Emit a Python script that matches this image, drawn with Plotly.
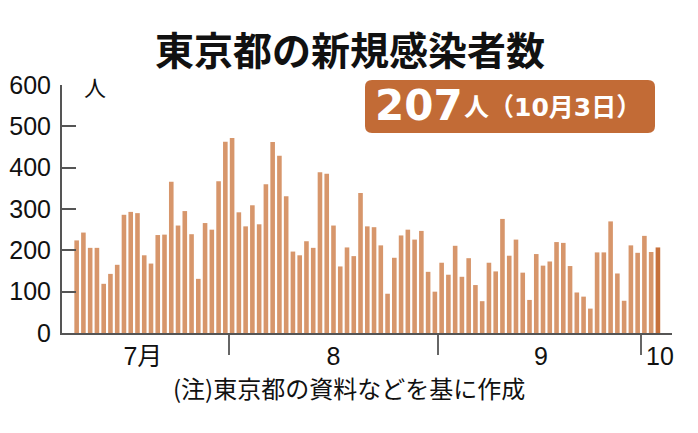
import plotly.graph_objects as go
import pandas as pd

# ---- data ----
start_date = "2020-07-09"
cases = [
    224, 243, 206, 206, 119, 143, 165, 286, 293, 290, 188, 168, 237, 238, 366,
    260, 295, 239, 131, 266, 250, 367, 463,
    472, 292, 258, 309, 263, 360, 462, 429, 331, 197, 188, 222, 206, 389, 385,
    260, 161, 207, 186, 339, 258, 256, 212, 95, 182, 236, 250, 226, 247, 148, 100,
    170, 141, 211, 136, 181, 116, 77, 170, 149, 276, 187, 226, 146, 80, 191, 163,
    173, 220, 218, 162, 98, 88, 59, 195, 195, 270, 144, 78, 212, 194,
    235, 196, 207,
]
dates = pd.date_range(start_date, periods=len(cases), freq="D")
month_label_pos = ["2020-07-19 07:00", "2020-08-16 12:00", "2020-09-16 05:00", "2020-10-03 19:00"]
month_labels = ["7月", "8", "9", "10"]
y_ticks = [0, 100, 200, 300, 400, 500, 600]
title_text = "東京都の新規感染者数"
badge_value = "207"
badge_rest = "人（10月3日）"
note_text = "(注)東京都の資料などを基に作成"

bar_color = "#d7966b"
last_color = "#c7713c"
colors = [bar_color] * (len(cases) - 1) + [last_color]

# page has an 8px body margin -> figure drawn at (8, 8)
OFF = 8
W, H = 698 - OFF, 433 - OFF
PX_L, PX_R, PX_T, PX_B = 62, 672, 85, 333   # plot area in window pixels
L, R, T, B = PX_L - OFF, 698 - PX_R, PX_T - OFF, 433 - PX_B
pw, ph = W - L - R, H - T - B

def px(x):
    return (x - PX_L) / pw

def py(y):
    return (PX_B - y) / ph

# centre each day's bar in the middle of its day
bar_x = dates + pd.Timedelta(hours=12)

fig = go.Figure()
fig.add_trace(go.Bar(
    x=bar_x, y=cases, marker=dict(color=colors, line=dict(width=0)),
    hoverinfo="x+y",
))

axis_font = dict(family="Liberation Sans, Arial", size=25, color="#111")

fig.update_layout(
    width=W, height=H,
    margin=dict(l=L, r=R, t=T, b=B, autoexpand=False),
    paper_bgcolor="white", plot_bgcolor="white",
    bargap=0.32, showlegend=False,
    xaxis=dict(
        range=["2020-07-07 08:00", "2020-10-05 14:00"],
        tickvals=month_label_pos, ticktext=month_labels,
        ticks="", tickfont=dict(family="Liberation Sans, Noto Sans CJK JP", size=25, color="#111"),
        ticklabelstandoff=0, automargin=False,
        showline=True, linecolor="#555", linewidth=2,
        showgrid=False, zeroline=False,
        minor=dict(dtick="M1", tick0="2020-08-01", ticks="outside", ticklen=20,
                   tickcolor="#666", tickwidth=2, showgrid=False),
    ),
    yaxis=dict(
        range=[0, 600], tickvals=y_ticks,
        ticks="inside", ticklen=14, tickcolor="#555", tickwidth=2,
        tickfont=axis_font, ticklabelstandoff=4, automargin=False,
        showline=True, linecolor="#555", linewidth=2,
        showgrid=False, zeroline=False,
    ),
)

# title
fig.add_annotation(text=title_text, xref="paper", yref="paper", x=px(350), y=py(48),
                   showarrow=False, xanchor="center", yanchor="middle",
                   font=dict(family="Noto Sans CJK JP", size=39, color="#111", weight="bold"))
# unit label
fig.add_annotation(text="人", xref="paper", yref="paper", x=px(82), y=py(86),
                   showarrow=False, xanchor="left", yanchor="middle",
                   font=dict(family="Noto Sans CJK JP", size=22, color="#111"))
# badge
bx0, bx1, by0, by1, r = 365, 655, 80, 133, 7
rx, ry = r / pw, r / ph
x0, x1, y0, y1 = px(bx0), px(bx1), py(by1), py(by0)
path = (f"M {x0+rx},{y0} L {x1-rx},{y0} Q {x1},{y0} {x1},{y0+ry} "
        f"L {x1},{y1-ry} Q {x1},{y1} {x1-rx},{y1} L {x0+rx},{y1} "
        f"Q {x0},{y1} {x0},{y1-ry} L {x0},{y0+ry} Q {x0},{y0} {x0+rx},{y0} Z")
fig.add_shape(type="path", path=path, xref="paper", yref="paper",
              fillcolor="#c26b36", line=dict(width=0), layer="above")
fig.add_annotation(text=badge_value, xref="paper", yref="paper", x=px(465), y=py(105),
                   showarrow=False, xanchor="right", yanchor="middle",
                   font=dict(family="DejaVu Sans, Liberation Sans", size=42, color="white", weight="bold"))
fig.add_annotation(text=badge_rest, xref="paper", yref="paper", x=px(462), y=py(107),
                   showarrow=False, xanchor="left", yanchor="middle",
                   font=dict(family="DejaVu Sans, Noto Sans CJK JP", size=25, color="white", weight="bold"))
# footnote
fig.add_annotation(text=note_text, xref="paper", yref="paper", x=px(349), y=py(387),
                   showarrow=False, xanchor="center", yanchor="middle",
                   font=dict(family="Noto Sans CJK JP", size=24, color="#111"))

fig.write_html("out.html")
